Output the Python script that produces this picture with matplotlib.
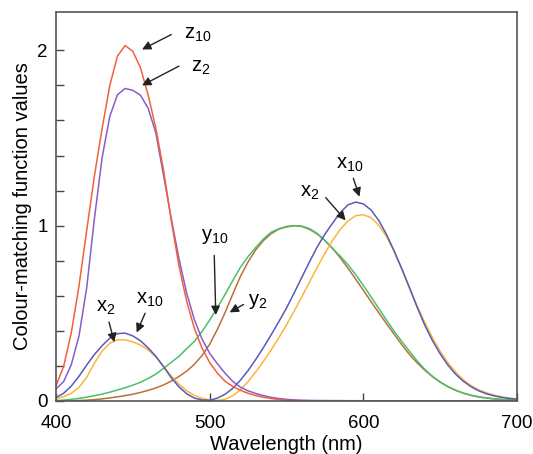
import numpy as np
import matplotlib
matplotlib.use('Agg')
import matplotlib.pyplot as plt

plt.rcParams['font.family'] = ['Liberation Sans', 'DejaVu Sans']
plt.rcParams['mathtext.default'] = 'regular'

# wavelength (nm), 5 nm steps
wl = np.arange(400, 705, 5)

# CIE 1931 2 deg observer
x2 = [0.01431, 0.02319, 0.04351, 0.07763, 0.13438, 0.21477, 0.2839, 0.3285, 0.34828, 0.34806,
      0.3362, 0.3187, 0.2908, 0.2511, 0.19536, 0.1421, 0.09564, 0.05795, 0.03201, 0.0147,
      0.0049, 0.0024, 0.0093, 0.0291, 0.06327, 0.1096, 0.1655, 0.22575, 0.2904, 0.3597,
      0.43345, 0.51205, 0.5945, 0.6784, 0.7621, 0.8425, 0.9163, 0.9786, 1.0263, 1.0567,
      1.0622, 1.0456, 1.0026, 0.9384, 0.85445, 0.7514, 0.6424, 0.5419, 0.4479, 0.3608,
      0.2835, 0.2187, 0.1649, 0.1212, 0.0874, 0.0636, 0.04677, 0.0329, 0.0227, 0.01584, 0.011359]
y2 = [0.000396, 0.00064, 0.00121, 0.00218, 0.004, 0.0073, 0.0116, 0.01684, 0.023, 0.0298,
      0.038, 0.048, 0.06, 0.0739, 0.09098, 0.1126, 0.13902, 0.1693, 0.20802, 0.2586,
      0.323, 0.4073, 0.503, 0.6082, 0.71, 0.7932, 0.862, 0.91485, 0.954, 0.9803,
      0.99495, 1.0, 0.995, 0.9786, 0.952, 0.9154, 0.87, 0.8163, 0.757, 0.6949,
      0.631, 0.5668, 0.503, 0.4412, 0.381, 0.321, 0.265, 0.217, 0.175, 0.1382,
      0.107, 0.0816, 0.061, 0.04458, 0.032, 0.0232, 0.017, 0.01192, 0.00821, 0.005723, 0.004102]
z2 = [0.06785, 0.1102, 0.2074, 0.3713, 0.6456, 1.03905, 1.3856, 1.62296, 1.74706, 1.7826,
      1.77211, 1.7441, 1.6692, 1.5281, 1.28764, 1.0419, 0.81295, 0.6162, 0.46518, 0.3533,
      0.272, 0.2123, 0.1582, 0.1117, 0.07825, 0.05725, 0.04216, 0.02984, 0.0203, 0.0134,
      0.00875, 0.00575, 0.0039, 0.00275, 0.0021, 0.0018, 0.00165, 0.0014, 0.0011, 0.001,
      0.0008, 0.0006, 0.00034, 0.00024, 0.00019, 0.0001, 0.00005, 0.00003, 0.00002, 0.00001,
      0, 0, 0, 0, 0, 0, 0, 0, 0, 0, 0]

# CIE 1964 10 deg observer
x10 = [0.01911, 0.0434, 0.084736, 0.140638, 0.204492, 0.264737, 0.314679, 0.357719, 0.383734, 0.386726,
       0.370702, 0.342957, 0.302273, 0.254085, 0.195618, 0.132349, 0.080507, 0.041072, 0.016172, 0.005132,
       0.003816, 0.015444, 0.037465, 0.071358, 0.117749, 0.172953, 0.236491, 0.304213, 0.376772, 0.451584,
       0.529826, 0.616053, 0.705224, 0.793832, 0.878655, 0.951162, 1.01416, 1.0743, 1.11852, 1.1343,
       1.12399, 1.0891, 1.03048, 0.95074, 0.856297, 0.75493, 0.647467, 0.53511, 0.431567, 0.34369,
       0.268329, 0.2043, 0.152568, 0.11221, 0.081261, 0.05793, 0.040851, 0.028623, 0.019941, 0.013842, 0.009577]
y10 = [0.002004, 0.004509, 0.008756, 0.014456, 0.021391, 0.029497, 0.038676, 0.049602, 0.062077, 0.074704,
       0.089456, 0.106256, 0.128201, 0.152761, 0.18519, 0.21994, 0.253589, 0.297665, 0.339133, 0.395379,
       0.460777, 0.53136, 0.606741, 0.68566, 0.761757, 0.82333, 0.875211, 0.92381, 0.961988, 0.9822,
       0.991761, 0.99911, 0.99734, 0.98238, 0.955552, 0.915175, 0.868934, 0.825623, 0.777405, 0.720353,
       0.658341, 0.593878, 0.527963, 0.461834, 0.398057, 0.339554, 0.283493, 0.228254, 0.179828, 0.140211,
       0.107633, 0.081187, 0.060281, 0.044096, 0.0318, 0.022602, 0.015905, 0.01113, 0.007749, 0.005375, 0.003718]
z10 = [0.086011, 0.19712, 0.389366, 0.65676, 0.972542, 1.2825, 1.55348, 1.7985, 1.96728, 2.0273,
       1.9948, 1.9007, 1.74537, 1.5549, 1.31756, 1.0302, 0.772125, 0.57006, 0.415254, 0.302356,
       0.218502, 0.159249, 0.112044, 0.082248, 0.060709, 0.04305, 0.030451, 0.020584, 0.013676, 0.007918,
       0.003988, 0.001091, 0, 0, 0, 0, 0, 0, 0, 0,
       0, 0, 0, 0, 0, 0, 0, 0, 0, 0,
       0, 0, 0, 0, 0, 0, 0, 0, 0, 0, 0]

fig = plt.figure(figsize=(5.33, 4.54), dpi=100)
ax = fig.add_axes([0.105, 0.117, 0.865, 0.857])

lw = 1.1
ax.plot(wl, y2, color='#b8703c', lw=lw)
ax.plot(wl, y10, color='#4dbf6a', lw=lw)
ax.plot(wl, x2, color='#fdb53a', lw=lw)
ax.plot(wl, x10, color='#5a5ab8', lw=lw)
ax.plot(wl, z2, color='#8a5cc8', lw=lw)
ax.plot(wl, z10, color='#f2603c', lw=lw)

ax.set_xlim(400, 700)
ax.set_ylim(0, 2.22)
ax.set_xticks([400, 500, 600, 700])
ax.set_yticks([0, 1, 2])
ax.set_yticks([0.2, 0.4, 0.6, 0.8, 1.2, 1.4, 1.6, 1.8], minor=True)
ax.tick_params(which='both', direction='in', length=6, width=1, color='#444444',
               labelsize=13.5)
ax.tick_params(axis='x', pad=10)
ax.tick_params(axis='y', pad=6)
for s in ax.spines.values():
    s.set_color('#555555')
    s.set_linewidth(1.2)

ax.set_xlabel('Wavelength (nm)', fontsize=14.5, labelpad=2)
ax.set_ylabel('Colour-matching function values', fontsize=14.5, labelpad=4)

# (label, text pos, arrow tail, arrow tip)
notes = [
    ('z_{10}', (492, 2.09), (475, 2.09), (456, 2.005)),
    ('z_{2}', (494, 1.90), (480, 1.91), (456, 1.80)),
    ('x_{2}', (432.5, 0.535), (434.5, 0.45), (438, 0.335)),
    ('x_{10}', (461, 0.58), (458, 0.50), (452.5, 0.39)),
    ('y_{10}', (503, 0.94), (503, 0.83), (504, 0.49)),
    ('y_{2}', (531, 0.565), (522, 0.55), (513, 0.505)),
    ('x_{2}', (565, 1.19), (575.5, 1.16), (588.5, 1.03)),
    ('x_{10}', (591, 1.35), (593.5, 1.27), (597.5, 1.165)),
]
for lab, tpos, tail, tip in notes:
    ax.text(tpos[0], tpos[1], '$' + lab + '$', fontsize=14.5, ha='center', va='center')
    ax.annotate('', xy=tip, xytext=tail,
                arrowprops=dict(arrowstyle='-|>', color='#222222', lw=1.0,
                                mutation_scale=13, shrinkA=0, shrinkB=0))

fig.savefig('out.png', dpi=100)
